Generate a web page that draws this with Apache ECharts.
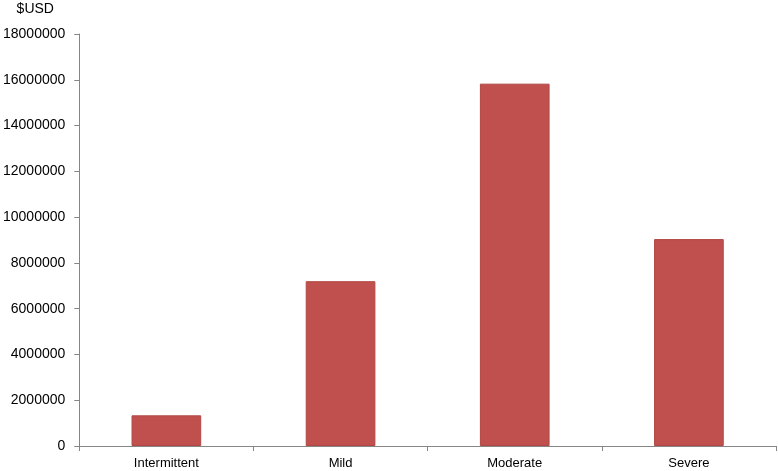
<!DOCTYPE html>
<html>
<head>
<meta charset="utf-8">
<script src="https://cdn.jsdelivr.net/npm/echarts@6/dist/echarts.min.js"></script>
<style>
  html, body { margin: 0; padding: 0; background: #fff; }
  #main { width: 778px; height: 471px; }
</style>
</head>
<body>
<div id="main"></div>
<script>
const categories = ['Intermittent', 'Mild', 'Moderate', 'Severe']
const costs = [1340000, 7200000, 15830000, 9040000]
const yTicks = { min: 0, max: 18000000, interval: 2000000 }

const chart = echarts.init(document.getElementById('main'))

const option = {
  animation: false,
  grid: { left: 79, right: 2, top: 34, bottom: 25, containLabel: false },
  xAxis: {
    type: 'category',
    data: categories,
    axisLine: { lineStyle: { color: '#868686', width: 1 } },
    axisTick: { show: true, alignWithLabel: false, length: 5, lineStyle: { color: '#868686' } },
    axisLabel: { color: '#000', fontSize: 13, fontFamily: 'Liberation Sans, Arial, sans-serif', margin: 11 }
  },
  yAxis: {
    type: 'value',
    name: '$USD',
    nameLocation: 'end',
    nameGap: 18,
    nameTextStyle: { color: '#000', fontSize: 14, fontFamily: 'Liberation Sans, Arial, sans-serif', align: 'center', padding: [0, 88, 0, 0] },
    min: yTicks.min,
    max: yTicks.max,
    interval: yTicks.interval,
    splitLine: { show: false },
    axisLine: { show: true, lineStyle: { color: '#868686', width: 1 } },
    axisTick: { show: true, length: 5, lineStyle: { color: '#868686' } },
    axisLabel: {
      color: '#000', fontSize: 14, fontFamily: 'Liberation Sans, Arial, sans-serif', margin: 14,
      formatter: v => String(v)
    }
  },
  series: [
    {
      type: 'bar',
      data: costs,
      barCategoryGap: '60%',
      itemStyle: { color: '#C0504D', borderColor: '#B04744', borderWidth: 1 }
    }
  ]
}

chart.setOption(option)
</script>
</body>
</html>
